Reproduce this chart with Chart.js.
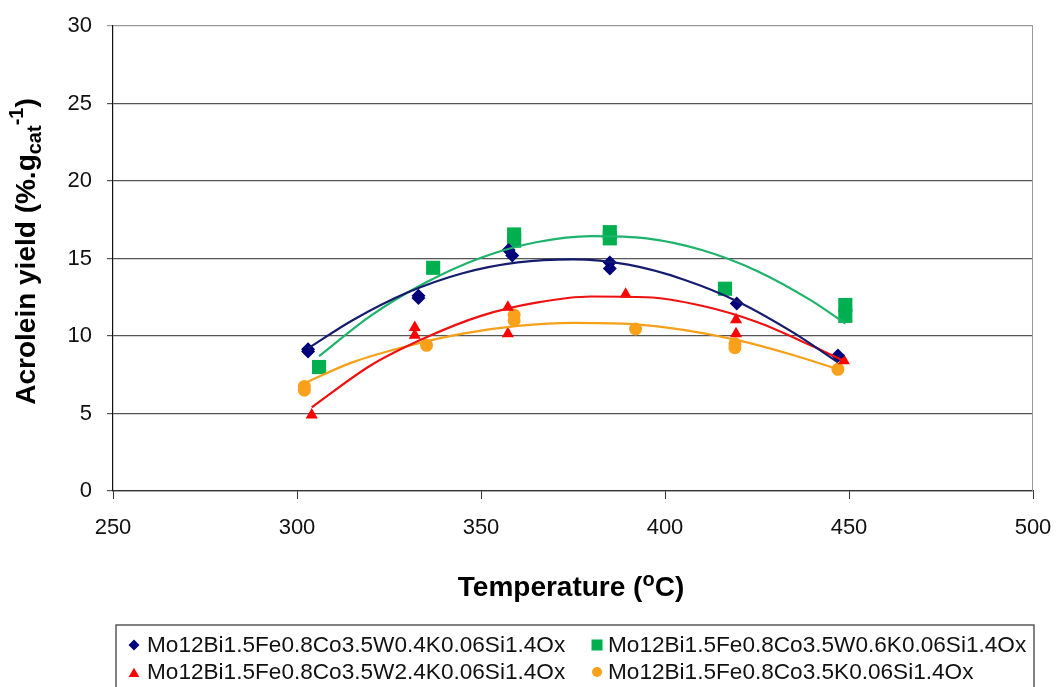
<!DOCTYPE html>
<html lang="en">
<head>
<meta charset="UTF-8">
<title>Acrolein yield vs temperature</title>
<script src="https://cdn.jsdelivr.net/npm/chart.js@4"></script>
<style>
  body { margin: 0; background: #fff; }
  #wrap { width: 1057px; height: 687px; }
</style>
</head>
<body>
<div id="wrap"><canvas id="chart" width="1057" height="687"></canvas></div>
<script>
// catalyst compositions (legend order)
const catalysts = [
  'Mo12Bi1.5Fe0.8Co3.5W0.4K0.06Si1.4Ox',
  'Mo12Bi1.5Fe0.8Co3.5W0.6K0.06Si1.4Ox',
  'Mo12Bi1.5Fe0.8Co3.5W2.4K0.06Si1.4Ox',
  'Mo12Bi1.5Fe0.8Co3.5K0.06Si1.4Ox'
];

const markerColors = ['#00007a', '#00b050', '#ff0000', '#f9a11b'];
const lineColors   = ['#141c6e', '#1db36b', '#ee1111', '#f6a01a'];
const markerStyles = ['rectRot', 'rect', 'triangle', 'circle'];
const markerRadius = [7, 10, 7, 6.5];

// measured yields (temperature in °C, yield in %.g_cat^-1)
const tempW04   = [303, 303, 333, 333, 357.5, 358.5, 385, 385, 419.5, 447];
const yieldW04  = [9.15, 9.0, 12.6, 12.45, 15.55, 15.2, 14.75, 14.35, 12.1, 8.75];
const tempW06   = [306, 337, 359, 359, 385, 385, 416.3, 449, 449];
const yieldW06  = [8.0, 14.4, 16.55, 16.15, 16.7, 16.3, 13.05, 12.0, 11.3];
const tempW24   = [304, 332, 332, 357.3, 357.3, 389.3, 419.3, 419.3, 448.6];
const yieldW24  = [4.9, 10.55, 10.05, 11.85, 10.15, 12.7, 11.05, 10.15, 8.4];
const tempNoW   = [302, 302, 335.2, 359, 359, 392, 419, 419, 447];
const yieldNoW  = [6.75, 6.5, 9.4, 11.35, 11.0, 10.45, 9.5, 9.25, 7.85];

// polynomial trend curves
const trendTempW04  = [303, 315, 330, 345, 360, 375, 390, 405, 420, 435, 447];
const trendYieldW04 = [9.2, 11.0, 12.8, 14.05, 14.75, 14.95, 14.6, 13.65, 12.2, 10.2, 8.3];
const trendTempW06  = [306, 320, 335, 350, 365, 380, 395, 410, 425, 440, 449];
const trendYieldW06 = [8.7, 11.3, 13.45, 15.05, 16.05, 16.45, 16.3, 15.55, 14.2, 12.25, 10.8];
const trendTempW24  = [304, 320, 335, 350, 365, 380, 395, 410, 425, 440, 448.5];
const trendYieldW24 = [5.4, 8.1, 9.9, 11.3, 12.15, 12.55, 12.5, 11.95, 10.9, 9.35, 8.4];
const trendTempNoW  = [302, 315, 330, 345, 360, 375, 390, 405, 420, 435, 447];
const trendYieldNoW = [6.95, 8.3, 9.35, 10.15, 10.65, 10.85, 10.78, 10.4, 9.72, 8.76, 7.85];

const xTicks = [250, 300, 350, 400, 450, 500];
const yTicks = [0, 5, 10, 15, 20, 25, 30];

const FONT = "'Liberation Sans', Arial, Helvetica, sans-serif";

const pointSets = [[tempW04, yieldW04], [tempW06, yieldW06], [tempW24, yieldW24], [tempNoW, yieldNoW]];
const trendSets = [[trendTempW04, trendYieldW04], [trendTempW06, trendYieldW06],
                   [trendTempW24, trendYieldW24], [trendTempNoW, trendYieldNoW]];

const zip = (xs, ys) => xs.map((x, i) => ({ x: x, y: ys[i] }));

const datasets = [];
pointSets.forEach((s, i) => {
  datasets.push({
    type: 'scatter',
    label: catalysts[i],
    data: zip(s[0], s[1]),
    pointStyle: markerStyles[i],
    pointRadius: markerRadius[i],
    pointHoverRadius: markerRadius[i],
    backgroundColor: markerColors[i],
    borderColor: markerColors[i],
    pointBorderWidth: 0,
    order: 2
  });
});
trendSets.forEach((s, i) => {
  datasets.push({
    type: 'line',
    label: '',
    isTrend: true,
    data: zip(s[0], s[1]),
    borderColor: lineColors[i],
    borderWidth: 2.2,
    pointRadius: 0,
    fill: false,
    cubicInterpolationMode: 'monotone',
    order: 1
  });
});

function drawMarker(ctx, style, r, x, y) {
  if (Chart.helpers && Chart.helpers.drawPoint) {
    Chart.helpers.drawPoint(ctx, { pointStyle: style, radius: r, rotation: 0, borderWidth: 0 }, x, y);
    return;
  }
  ctx.beginPath();
  ctx.arc(x, y, r, 0, Math.PI * 2);
  ctx.fill();
}

// right edge of the plot frame
const frame = {
  id: 'frame',
  beforeDatasetsDraw(chart) {
    const a = chart.chartArea, ctx = chart.ctx;
    ctx.save();
    ctx.strokeStyle = '#9a9a9a';
    ctx.lineWidth = 1;
    ctx.beginPath();
    ctx.moveTo(a.right - 0.5, a.top);
    ctx.lineTo(a.right - 0.5, a.bottom);
    ctx.stroke();
    ctx.restore();
  }
};

// axis titles with sub/superscripts
function drawRuns(ctx, runs, startX, baseY) {
  let x = startX;
  runs.forEach(r => {
    ctx.font = r.font;
    ctx.fillText(r.text, x, baseY + (r.dy || 0));
    x += ctx.measureText(r.text).width;
  });
}
function runsWidth(ctx, runs) {
  let w = 0;
  runs.forEach(r => {
    ctx.font = r.font;
    w += ctx.measureText(r.text).width;
  });
  return w;
}

const titles = {
  id: 'titles',
  afterDraw(chart) {
    const a = chart.chartArea, ctx = chart.ctx;
    const big = 'bold 28px ' + FONT, small = 'bold 20px ' + FONT;
    ctx.save();
    ctx.fillStyle = '#000';
    ctx.textBaseline = 'alphabetic';
    ctx.textAlign = 'left';

    const xRuns = [
      { text: 'Temperature (', font: big },
      { text: 'o', font: small, dy: -10 },
      { text: 'C)', font: big }
    ];
    const xw = runsWidth(ctx, xRuns);
    drawRuns(ctx, xRuns, (a.left + a.right) / 2 - 2 - xw / 2, 596);

    const yRuns = [
      { text: 'Acrolein yield (%.g', font: big },
      { text: 'cat', font: small, dy: 6 },
      { text: '-1', font: small, dy: -12 },
      { text: ')', font: big }
    ];
    const yw = runsWidth(ctx, yRuns);
    ctx.translate(35, (a.top + a.bottom) / 2 - 7);
    ctx.rotate(-Math.PI / 2);
    drawRuns(ctx, yRuns, -yw / 2, 0);
    ctx.restore();
  }
};

// boxed legend below the axis title, two columns
const boxLegend = {
  id: 'boxLegend',
  afterDraw(chart) {
    const ctx = chart.ctx;
    const boxX = 116, boxY = 625, boxW = 918, boxH = 80;
    const colMarker = [134, 597], colText = [147, 608];
    const rowY = [645, 672];
    ctx.save();
    ctx.strokeStyle = '#5a5a5a';
    ctx.lineWidth = 1.5;
    ctx.strokeRect(boxX, boxY, boxW, boxH);
    ctx.font = '22.6px ' + FONT;
    ctx.textBaseline = 'middle';
    ctx.textAlign = 'left';
    const legendRadius = { rectRot: 5.5, rect: 7.8, triangle: 6.2, circle: 5 };
    chart.data.datasets.filter(d => !d.isTrend).forEach((d, i) => {
      const col = i % 2, row = Math.floor(i / 2);
      ctx.fillStyle = d.backgroundColor;
      const my = d.pointStyle === 'triangle' ? rowY[row] + 2 : rowY[row];
      drawMarker(ctx, d.pointStyle, legendRadius[d.pointStyle], colMarker[col], my);
      ctx.fillStyle = '#111';
      ctx.fillText(d.label, colText[col], rowY[row] + 1);
    });
    ctx.restore();
  }
};

new Chart(document.getElementById('chart'), {
  data: { datasets: datasets },
  options: {
    responsive: false,
    animation: false,
    layout: { padding: { top: 26, right: 24, left: 0, bottom: 0 } },
    plugins: {
      legend: { display: false },
      tooltip: { enabled: false }
    },
    scales: {
      x: {
        type: 'linear',
        min: xTicks[0],
        max: xTicks[xTicks.length - 1],
        afterBuildTicks: s => { s.ticks = xTicks.map(v => ({ value: v })); },
        afterFit: s => { s.height = 196; s.paddingLeft = 0; s.paddingRight = 0; },
        ticks: { color: '#111', padding: 16, font: { family: FONT, size: 22 } },
        grid: { drawOnChartArea: false, drawTicks: true, tickLength: 8, color: '#333' },
        border: { color: '#333', width: 1.2 }
      },
      y: {
        type: 'linear',
        min: yTicks[0],
        max: yTicks[yTicks.length - 1],
        afterBuildTicks: s => { s.ticks = yTicks.map(v => ({ value: v })); },
        afterFit: s => { s.width = 113; s.paddingTop = 0; s.paddingBottom = 0; },
        ticks: { color: '#111', padding: 15, font: { family: FONT, size: 22 } },
        grid: {
          color: c => (c.tick && c.tick.value === 30 ? '#9a9a9a' : '#555'),
          lineWidth: 1.2,
          tickLength: 6
        },
        border: { color: '#111', width: 1.2 }
      }
    }
  },
  plugins: [frame, titles, boxLegend]
});
</script>
</body>
</html>
